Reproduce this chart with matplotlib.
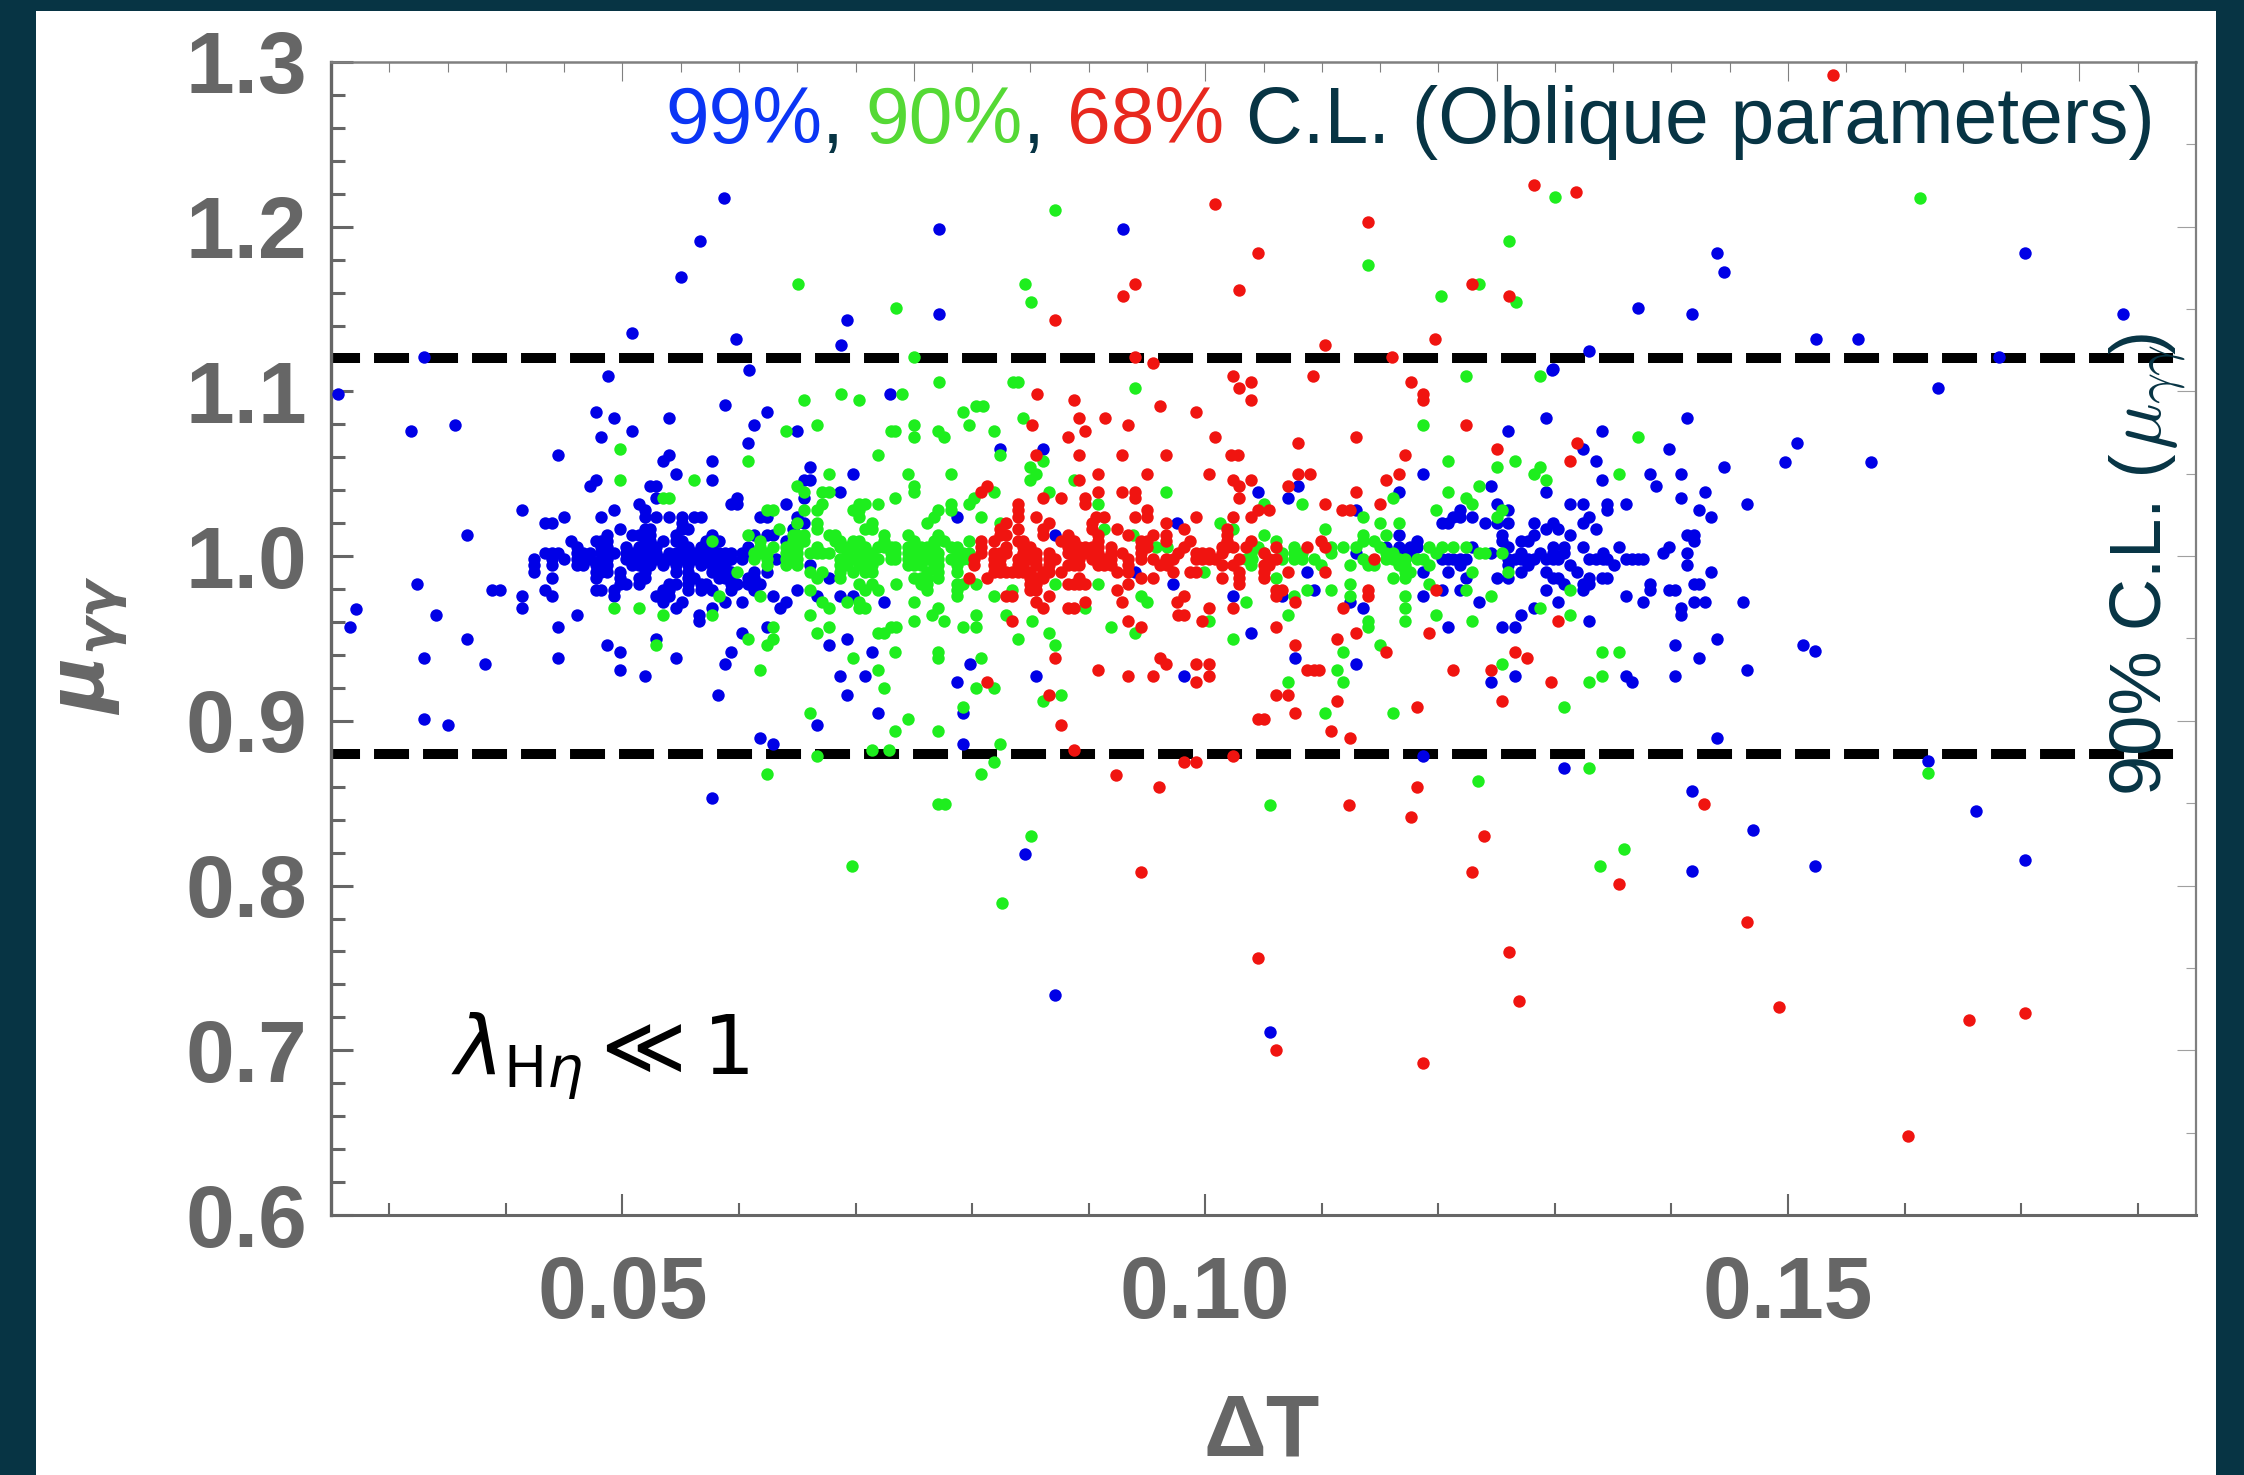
import matplotlib
matplotlib.use("Agg")
import matplotlib.pyplot as plt
from matplotlib.patches import Rectangle
from matplotlib.ticker import MultipleLocator

# eixos e rotulos
x_ticks = [0.05, 0.10, 0.15]
x_labels = ["0.05", "0.10", "0.15"]
y_ticks = [0.6, 0.7, 0.8, 0.9, 1.0, 1.1, 1.2, 1.3]
y_labels = ["0.6", "0.7", "0.8", "0.9", "1.0", "1.1", "1.2", "1.3"]
limit_mu = [1.12, 0.88]
limit_dt = [0.025, 0.1834]

# pontos: mu -> lista de delta T
blue_rows = {
    1.0918: [0.0588],
    1.0873: [0.0477, 0.0624],
    1.0837: [0.0493, 0.0540, 0.1292, 0.1413],
    1.0799: [0.0613],
    1.0762: [0.0508, 0.0650, 0.1260, 0.1340],
    1.0726: [0.0482],
    1.0687: [0.0608],
    1.0651: [0.0824, 0.0861, 0.1324, 0.1398],
    1.0614: [0.0445, 0.0540],
    1.0576: [0.0535, 0.0577, 0.1335],
    1.0540: [0.0661, 0.1445],
    1.0501: [0.0546, 0.0698, 0.1187, 0.1382, 0.1408],
    1.0465: [0.0477, 0.0577, 0.0656, 0.0661, 0.1340],
    1.0426: [0.0472, 0.0524, 0.0529, 0.1080, 0.1245, 0.1387],
    1.0390: [0.0687, 0.1045, 0.1166, 0.1292, 0.1429],
    1.0351: [0.0529, 0.0598, 0.0656, 0.1071, 0.1408],
    1.0315: [0.0514, 0.0593, 0.0598, 0.0640, 0.1250, 0.1313, 0.1324, 0.1345, 0.1361, 0.1465],
    1.0279: [0.0414, 0.0493, 0.0519, 0.1129, 0.1219, 0.1260, 0.1345, 0.1424],
    1.0240: [0.0450, 0.0482, 0.0519, 0.0529, 0.0540, 0.0551, 0.0561, 0.0567, 0.0618, 0.0624, 0.0650,
             0.0787, 0.1213, 0.1219, 0.1229, 0.1329, 0.1434],
    1.0204: [0.0434, 0.0440, 0.0551, 0.0650, 0.0656, 0.0976, 0.1203, 0.1208, 0.1240, 0.1250, 0.1260,
             0.1282, 0.1298, 0.1324],
    1.0167: [0.0498, 0.0519, 0.0524, 0.0551, 0.0556, 0.0646, 0.1292, 0.1303, 0.1335],
    1.0129: [0.0487, 0.0508, 0.0514, 0.0519, 0.0524, 0.0546, 0.0577, 0.0613, 0.0624, 0.0629, 0.0871,
             0.1166, 0.1255, 0.1282, 0.1313, 0.1413, 0.1419],
    1.0092: [0.0456, 0.0477, 0.0482, 0.0487, 0.0519, 0.0524, 0.0535, 0.0546, 0.0551, 0.0572, 0.0583,
             0.0640, 0.1182, 0.1255, 0.1271, 0.1277, 0.1419],
    1.0056: [0.0461, 0.0482, 0.0487, 0.0503, 0.0514, 0.0519, 0.0524, 0.0529, 0.0551, 0.0556, 0.0567,
             0.0577, 0.0608, 0.1155, 0.1166, 0.1176, 0.1182, 0.1229, 0.1260, 0.1298, 0.1308, 0.1324,
             0.1355, 0.1398],
    1.0017: [0.0434, 0.0440, 0.0445, 0.0461, 0.0466, 0.0472, 0.0482, 0.0487, 0.0493, 0.0503, 0.0508,
             0.0514, 0.0519, 0.0524, 0.0529, 0.0540, 0.0546, 0.0551, 0.0556, 0.0561, 0.0567, 0.0572,
             0.0577, 0.0583, 0.0588, 0.0593, 0.0603, 0.0608, 0.1129, 0.1166, 0.1176, 0.1245, 0.1271,
             0.1287, 0.1298, 0.1308, 0.1341, 0.1393, 0.1413],
    0.9981: [0.0424, 0.0440, 0.0450, 0.0461, 0.0466, 0.0472, 0.0482, 0.0487, 0.0503, 0.0508, 0.0514,
             0.0519, 0.0524, 0.0529, 0.0535, 0.0540, 0.0546, 0.0551, 0.0556, 0.0561, 0.0567, 0.0572,
             0.0577, 0.0583, 0.0588, 0.0593, 0.0603, 0.0632, 0.1171, 0.1203, 0.1208, 0.1213, 0.1219,
             0.1224, 0.1260, 0.1266, 0.1271, 0.1277, 0.1282, 0.1292, 0.1298, 0.1303, 0.1329, 0.1335,
             0.1341, 0.1345, 0.1361, 0.1366, 0.1371, 0.1376],
    0.9945: [0.0424, 0.0440, 0.0461, 0.0466, 0.0477, 0.0482, 0.0487, 0.0508, 0.0514, 0.0519, 0.0524,
             0.0535, 0.0546, 0.0556, 0.0567, 0.0577, 0.0583, 0.0588, 0.0661, 0.1219, 0.1260, 0.1277,
             0.1313, 0.1351, 0.1413],
    0.9906: [0.0424, 0.0477, 0.0482, 0.0487, 0.0498, 0.0519, 0.0546, 0.0556, 0.0577, 0.0583, 0.0588,
             0.0593, 0.0613, 0.0624, 0.0940, 0.1087, 0.1187, 0.1208, 0.1271, 0.1292, 0.1319, 0.1434],
    0.9870: [0.0440, 0.0477, 0.0498, 0.0514, 0.0519, 0.0556, 0.0561, 0.0583, 0.0588, 0.0593, 0.0608,
             0.0613, 0.0677, 0.1224, 0.1250, 0.1260, 0.1298, 0.1303, 0.1329, 0.1340, 0.1345],
    0.9831: [0.0498, 0.0503, 0.0514, 0.0540, 0.0546, 0.0556, 0.0567, 0.0572, 0.0593, 0.0598, 0.0608,
             0.0613, 0.0618, 0.0972, 0.1308, 0.1324, 0.1329, 0.1382, 0.1419, 0.1424],
    0.9795: [0.0388, 0.0395, 0.0434, 0.0477, 0.0482, 0.0493, 0.0535, 0.0540, 0.0556, 0.0567, 0.0577,
             0.0593, 0.0613, 0.0650, 0.1093, 0.1203, 0.1219, 0.1292, 0.1324, 0.1382, 0.1398, 0.1403],
    0.9756: [0.0414, 0.0440, 0.0493, 0.0529, 0.0535, 0.0540, 0.0629, 0.0667, 0.0687, 0.0698, 0.1024,
             0.1066, 0.1187, 0.1361],
    0.9720: [0.0535, 0.0551, 0.0588, 0.0603, 0.0640, 0.0724, 0.1124, 0.1235, 0.1303, 0.1376, 0.1419,
             0.1429, 0.1461],
    0.9683: [0.0414, 0.0546, 0.0577, 0.0635, 0.1135, 0.1282, 0.1408],
    0.9645: [0.0461, 0.0566, 0.1271, 0.1408],
    0.9609: [0.0566, 0.1329],
    0.9570: [0.0445, 0.0624, 0.1208, 0.1255, 0.1266],
    0.9534: [0.0603, 0.1039],
    0.9495: [0.0529, 0.0693, 0.1439],
    0.9459: [0.0487, 0.0677, 0.1403],
    0.9420: [0.0498, 0.0593, 0.0714],
    0.9384: [0.0445, 0.0546, 0.1077, 0.1424],
    0.9345: [0.0588, 0.0798, 0.1129],
    0.9309: [0.0498, 0.1465],
    0.9271: [0.0519, 0.0687, 0.0708, 0.0855, 0.0982, 0.1266, 0.1361, 0.1403],
    0.9234: [0.0787, 0.1245, 0.1366],
    0.9159: [0.0582, 0.0693],
    0.9048: [0.0719, 0.0792],
    0.8973: [0.0667],
    0.8898: [0.0618, 0.1439],
    0.8862: [0.0629, 0.0792],
    0.8787: [0.1187],
    0.8712: [0.1308],
}
blue_dt = [0.05875, 0.05663, 0.05506, 0.07714, 0.07714, 0.05086, 0.05978, 0.06925, 0.06876, 0.04877,
           0.06084, 0.07293, 0.09293, 0.12976, 0.1439, 0.1445, 0.1703, 0.1371, 0.1418, 0.1787, 0.1524,
           0.1560, 0.1329, 0.1681, 0.1298, 0.1629, 0.0330, 0.02563, 0.0319, 0.0356, 0.03666, 0.03241,
           0.02718, 0.03404, 0.02666, 0.03666, 0.03301, 0.03825, 0.03301, 0.03507, 0.1508, 0.1497,
           0.1571, 0.1513, 0.1523, 0.1470, 0.1523, 0.1620, 0.1661, 0.1703, 0.1418, 0.1418, 0.05766,
           0.08452, 0.08715, 0.10554]
blue_mu = [1.2175, 1.1916, 1.1693, 1.1989, 1.1469, 1.1357, 1.1321, 1.1432, 1.1282, 1.1096,
           1.1133, 1.0985, 1.1989, 1.1133, 1.1841, 1.1726, 1.1841, 1.1507, 1.1471, 1.1471, 1.1319,
           1.1319, 1.1246, 1.1210, 1.1137, 1.1021, 1.1210, 1.0985, 1.0760, 1.0797, 1.0129, 0.9831,
           0.9680, 0.9643, 0.9570, 0.9497, 0.9382, 0.9345, 0.9012, 0.8975, 1.0687, 1.0572,
           1.0572, 0.9459, 0.9424, 0.8338, 0.8120, 0.8755, 0.8451, 0.8155, 0.8086, 0.8572, 0.8532,
           0.8192, 0.7334, 0.7111]

green_rows = {
    1.0912: [0.0803, 0.0809],
    1.0873: [0.0792],
    1.0837: [0.0844],
    1.0799: [0.0667, 0.0750, 0.0797, 0.1187],
    1.0762: [0.0640, 0.0730, 0.0734, 0.0771, 0.0819],
    1.0726: [0.0750, 0.0776, 0.1371],
    1.0651: [0.0498],
    1.0614: [0.0719, 0.0824],
    1.0576: [0.0608, 0.0861, 0.1208, 0.1266],
    1.0540: [0.0850, 0.1250, 0.1287],
    1.0501: [0.0677, 0.0745, 0.0782, 0.0855, 0.1282, 0.1355],
    1.0465: [0.0498, 0.0561, 0.0850, 0.0887, 0.1292],
    1.0426: [0.0650, 0.0750, 0.1235],
    1.0390: [0.0656, 0.0671, 0.0677, 0.0750, 0.0819, 0.0866, 0.0966, 0.1208],
    1.0351: [0.0535, 0.0540, 0.0734, 0.0802, 0.1161, 0.1224],
    1.0315: [0.0671, 0.0703, 0.0708, 0.0719, 0.0797, 0.0782, 0.0908, 0.1050, 0.1083, 0.1229],
    1.0279: [0.0624, 0.0629, 0.0656, 0.0667, 0.0698, 0.0703, 0.0771, 0.0782, 0.1198, 0.1255],
    1.0240: [0.0703, 0.0767, 0.0808, 0.1135, 0.1250],
    1.0204: [0.0650, 0.0667, 0.0714, 0.0761, 0.0824, 0.1013, 0.1150, 0.1166],
    1.0167: [0.0634, 0.0667, 0.0708, 0.0714, 0.0913, 0.1024, 0.1103],
    1.0129: [0.0608, 0.0646, 0.0650, 0.0656, 0.0677, 0.0682, 0.0724, 0.0745, 0.0771, 0.0938, 0.1050,
             0.1135, 0.1155],
    1.0092: [0.0577, 0.0618, 0.0646, 0.0650, 0.0656, 0.0682, 0.0687, 0.0698, 0.0703, 0.0724, 0.0750,
             0.0767, 0.0776, 0.0797, 0.1061, 0.1135, 0.1145],
    1.0056: [0.0618, 0.0629, 0.0640, 0.0646, 0.0650, 0.0667, 0.0687, 0.0693, 0.0698, 0.0708, 0.0719,
             0.0724, 0.0730, 0.0734, 0.0745, 0.0750, 0.0756, 0.0761, 0.0767, 0.0782, 0.0787, 0.0958,
             0.0967, 0.1045, 0.1076, 0.1108, 0.1118, 0.1129, 0.1150, 0.1192, 0.1203, 0.1213, 0.1224],
    1.0017: [0.0613, 0.0618, 0.0624, 0.0640, 0.0646, 0.0650, 0.0661, 0.0667, 0.0671, 0.0677, 0.0693,
             0.0703, 0.0708, 0.0714, 0.0730, 0.0734, 0.0745, 0.0750, 0.0756, 0.0761, 0.0771, 0.0787,
             0.0792, 0.0797, 0.1039, 0.1050, 0.1066, 0.1076, 0.1083, 0.1108, 0.1155, 0.1161, 0.1198,
             0.1235, 0.1240, 0.1255],
    0.9981: [0.0613, 0.0624, 0.0640, 0.0646, 0.0650, 0.0687, 0.0693, 0.0698, 0.0708, 0.0714, 0.0719,
             0.0730, 0.0734, 0.0745, 0.0750, 0.0756, 0.0761, 0.0767, 0.0771, 0.0782, 0.0792, 0.0797,
             0.1035, 0.1040, 0.1066, 0.1076, 0.1083, 0.1093, 0.1135, 0.1155, 0.1161, 0.1166, 0.1171,
             0.1182, 0.1187],
    0.9945: [0.0624, 0.0640, 0.0650, 0.0687, 0.0693, 0.0703, 0.0708, 0.0714, 0.0745, 0.0750, 0.0756,
             0.0767, 0.0771, 0.0787, 0.1039, 0.1099, 0.1124, 0.1140, 0.1145, 0.1166, 0.1171, 0.1192],
    0.9906: [0.0598, 0.0661, 0.0671, 0.0687, 0.0698, 0.0708, 0.0714, 0.0761, 0.0771, 0.0787, 0.0999,
             0.1171, 0.1176, 0.1229, 0.1260],
    0.9870: [0.0667, 0.0687, 0.0750, 0.0756, 0.0761, 0.0771, 0.1061, 0.1161, 0.1171],
    0.9831: [0.0703, 0.0714, 0.0735, 0.0756, 0.0761, 0.0787, 0.0792, 0.0803, 0.0871, 0.0908, 0.1124,
             0.1192],
    0.9795: [0.0661, 0.0708, 0.0719, 0.0761, 0.0787, 0.0834, 0.1087, 0.1108, 0.1224, 0.1313],
    0.9756: [0.0583, 0.0618, 0.0787, 0.0819, 0.0945, 0.1076, 0.1124, 0.1171, 0.1245],
    0.9720: [0.0671, 0.0693, 0.0703, 0.0750, 0.0950, 0.1035],
    0.9683: [0.0493, 0.0514, 0.0677, 0.0703, 0.0708, 0.0771, 0.0897, 0.1171, 0.1287],
    0.9645: [0.0535, 0.0577, 0.0661, 0.0766, 0.0803, 0.0829, 0.1071, 0.1198, 0.1313],
    0.9609: [0.0750, 0.0776, 0.0851, 0.1003, 0.1140, 0.1171, 0.1229],
    0.9570: [0.0629, 0.0677, 0.0730, 0.0735, 0.0792, 0.0803, 0.0919, 0.1140],
    0.9534: [0.0667, 0.0719, 0.0724, 0.0866, 0.0940],
    0.9495: [0.0608, 0.0629, 0.0839, 0.1024],
    0.9459: [0.0529, 0.0624, 0.0871, 0.1150],
    0.9420: [0.0734, 0.0771, 0.1118, 0.1340, 0.1355],
    0.9384: [0.0698, 0.0771, 0.0808],
    0.9345: [0.1255],
    0.9309: [0.0618, 0.0719, 0.1113],
    0.9271: [0.1340],
    0.9234: [0.1071, 0.1118, 0.1329],
    0.9198: [0.0724, 0.0803, 0.0819],
    0.9159: [0.0876],
    0.9123: [0.0861],
    0.9084: [0.0792, 0.1308],
    0.9048: [0.0661, 0.1103, 0.1161],
    0.9009: [0.0745],
    0.8937: [0.0734, 0.0771],
    0.8862: [0.0824],
    0.8823: [0.0714, 0.0729],
    0.8787: [0.0667],
    0.8751: [0.0819],
    0.8712: [0.1329],
    0.8676: [0.0624, 0.0808],
}
green_dt = [0.08712, 0.06504, 0.07345, 0.08452, 0.08503, 0.07502, 0.07714, 0.06876, 0.06558, 0.07027,
            0.07399, 0.08349, 0.08392, 0.12999, 0.12607, 0.11395, 0.12027, 0.12353, 0.12665, 0.09399,
            0.12235, 0.12868, 0.1613, 0.10554, 0.12344, 0.08503, 0.08257, 0.1339, 0.1359, 0.1620,
            0.0697, 0.0771, 0.0777]
green_mu = [1.2102, 1.1655, 1.1507, 1.1655, 1.1543, 1.1207, 1.1060, 1.0985, 1.0948, 1.0948,
            1.0985, 1.1060, 1.1060, 1.2179, 1.1916, 1.1766, 1.1580, 1.1655, 1.1541, 1.1021,
            1.1096, 1.1096, 1.2175, 0.8489, 0.8637, 0.8303, 0.7892, 0.8120, 0.8225, 0.8685,
            0.8120, 0.8494, 0.8494]

red_rows = {
    1.0912: [0.0961],
    1.0873: [0.0992],
    1.0837: [0.0892, 0.0914],
    1.0799: [0.0851, 0.0934, 0.1224],
    1.0762: [0.0897],
    1.0726: [0.0882, 0.1008, 0.1129],
    1.0687: [0.1080, 0.1319],
    1.0651: [0.1250],
    1.0614: [0.0855, 0.0892, 0.0929, 0.0966, 0.1022, 0.1028, 0.1171],
    1.0576: [0.1313],
    1.0501: [0.0908, 0.0950, 0.1003, 0.1080, 0.1090, 0.1166],
    1.0465: [0.0892, 0.1024, 0.1039, 0.1155],
    1.0426: [0.0813, 0.1029, 0.1071],
    1.0390: [0.0808, 0.0908, 0.0929, 0.0940, 0.1129],
    1.0351: [0.0861, 0.0876, 0.0897, 0.0940, 0.1029],
    1.0315: [0.0897, 0.0839, 0.1103, 0.1150],
    1.0279: [0.0839, 0.0950, 0.1045, 0.1055, 0.1117, 0.1124],
    1.0240: [0.0839, 0.0855, 0.0913, 0.0906, 0.0940, 0.0950, 0.0992, 0.1024, 0.1039],
    1.0204: [0.0829, 0.0866, 0.0903, 0.0966],
    1.0167: [0.0824, 0.0839, 0.0861, 0.0903, 0.0924, 0.0982, 0.1019],
    1.0129: [0.0824, 0.0829, 0.0861, 0.0882, 0.0908, 0.0934, 0.0955, 0.0966, 0.1019],
    1.0092: [0.0808, 0.0819, 0.0839, 0.0844, 0.0876, 0.0882, 0.0887, 0.0908, 0.0945, 0.0950, 0.0966,
             0.0987, 0.1019, 0.1039, 0.1099],
    1.0056: [0.0808, 0.0829, 0.0844, 0.0850, 0.0882, 0.0887, 0.0892, 0.0897, 0.0903, 0.0908, 0.0919,
             0.0945, 0.0950, 0.0982, 0.1014, 0.1019, 0.1024, 0.1035, 0.1061, 0.1087, 0.1103],
    1.0017: [0.0808, 0.0819, 0.0824, 0.0829, 0.0844, 0.0850, 0.0855, 0.0866, 0.0882, 0.0887, 0.0897,
             0.0903, 0.0908, 0.0919, 0.0929, 0.0945, 0.0977, 0.0992, 0.0997, 0.1003, 0.1014, 0.1050],
    0.9981: [0.0802, 0.0819, 0.0824, 0.0839, 0.0844, 0.0850, 0.0855, 0.0866, 0.0871, 0.0887, 0.0892,
             0.0903, 0.0908, 0.0913, 0.0919, 0.0934, 0.0945, 0.0955, 0.0966, 0.0972, 0.0992, 0.0997,
             0.1003, 0.1008, 0.1029, 0.1055, 0.1061, 0.1145],
    0.9945: [0.0802, 0.0819, 0.0824, 0.0839, 0.0844, 0.0855, 0.0866, 0.0882, 0.0887, 0.0892, 0.0908,
             0.0913, 0.0919, 0.0934, 0.0961, 0.0967, 0.1014, 0.1024, 0.1050, 0.1055],
    0.9906: [0.0819, 0.0824, 0.0829, 0.0834, 0.0839, 0.0844, 0.0850, 0.0861, 0.0866, 0.0876, 0.0924,
             0.0934, 0.0972, 0.0987, 0.0992, 0.1029, 0.1050, 0.1071, 0.1103],
    0.9870: [0.0797, 0.0813, 0.0850, 0.0855, 0.0861, 0.0892, 0.0945, 0.0955, 0.1014, 0.1029, 0.1050],
    0.9831: [0.0850, 0.0855, 0.0882, 0.0887, 0.0892, 0.0897, 0.0934, 0.1029],
    0.9795: [0.0850, 0.0855, 0.0924, 0.1061, 0.1066, 0.1140, 0.1198],
    0.9756: [0.0829, 0.0834, 0.0866, 0.0982, 0.1061, 0.1140],
    0.9720: [0.0855, 0.0897, 0.0929, 0.0976, 0.1077],
    0.9683: [0.0861, 0.0882, 0.0887, 0.1003, 0.1024, 0.1118],
    0.9645: [0.0977, 0.0982],
    0.9609: [0.0834, 0.0934, 0.0997, 0.1303],
    0.9570: [0.0945, 0.1061],
    0.9534: [0.1129, 0.1192],
    0.9495: [0.1113],
    0.9459: [0.1077],
    0.9420: [0.1155, 0.1266],
    0.9384: [0.0871, 0.0961, 0.1276],
    0.9345: [0.0966, 0.0992, 0.1003],
    0.9309: [0.0908, 0.1087, 0.1093, 0.1098, 0.1213, 0.1245],
    0.9271: [0.0934, 0.0955, 0.1003],
    0.9234: [0.0813, 0.0992, 0.1297],
    0.9159: [0.0866, 0.1061, 0.1071],
    0.9123: [0.1113, 0.1255],
    0.9084: [0.1182],
    0.9048: [0.1077],
    0.9009: [0.1045, 0.1050],
    0.8973: [0.0876],
    0.8937: [0.1108],
    0.8898: [0.1124],
    0.8823: [0.0887],
    0.8787: [0.1024],
    0.8751: [0.0982, 0.0992],
}
red_dt = [0.08712, 0.08557, 0.10082, 0.11398, 0.10451, 0.09399, 0.09293, 0.10294, 0.12819, 0.12290,
          0.12607, 0.11975, 0.11026, 0.09399, 0.09553, 0.11606, 0.10236, 0.10397, 0.10294, 0.10926,
          0.11764, 0.11869, 0.11869, 0.08872, 0.10397, 0.1539, 0.1318, 0.09238, 0.09607, 0.11818,
          0.11237, 0.11763, 0.12395, 0.12290, 0.09450, 0.12604, 0.10451, 0.12690, 0.10605, 0.11869,
          0.1492, 0.1655, 0.1703, 0.1603, 0.1465, 0.1428, 0.1355]
red_mu = [1.1432, 1.0985, 1.2140, 1.2027, 1.1841, 1.1655, 1.1580, 1.1618, 1.2252, 1.1655,
          1.1580, 1.1319, 1.1282, 1.1207, 1.1171, 1.1207, 1.1096, 1.1060, 1.1021, 1.1096,
          1.1060, 1.0985, 1.0948, 1.0948, 1.0948, 1.2922, 1.2212, 0.8674, 0.8601, 0.8601,
          0.8489, 0.8415, 0.8303, 0.8081, 0.8081, 0.7597, 0.7559, 0.7301, 0.7000, 0.6925,
          0.7263, 0.7184, 0.7226, 0.6480, 0.7779, 0.8495, 0.8010]

W, H = 2244, 1475
DARK = "#073444"
GRAY = "#666666"


def expand(rows, extra_dt, extra_mu):
    xs, ys = list(extra_dt), list(extra_mu)
    for mu, dts in rows.items():
        xs += dts
        ys += [mu] * len(dts)
    return xs, ys


def chain(fig, x, y, pieces, **kw):
    # coloca pedacos de texto em sequencia, em pixels da figura
    renderer = fig.canvas.get_renderer()
    for s, color in pieces:
        t = fig.text(x / W, 1 - y / H, s, color=color, ha="left", va="baseline", **kw)
        x += t.get_window_extent(renderer).width


plt.rcParams["lines.scale_dashes"] = False
plt.rcParams["font.family"] = "Liberation Sans"

fig = plt.figure(figsize=(W / 100, H / 100), dpi=100, facecolor=DARK)
fig.add_artist(Rectangle((36 / W, 0), (2216 - 36) / W, 1 - 11 / H, transform=fig.transFigure,
                         facecolor="white", edgecolor="none", zorder=-5))

ax = fig.add_axes([331 / W, 1 - 1215 / H, (2196 - 331) / W, (1215 - 62) / H])
ax.set_xlim(0.025, 0.185)
ax.set_ylim(0.6, 1.3)

for mu in limit_mu:
    ax.plot(limit_dt, [mu, mu], color="black", lw=7.2, zorder=2,
            linestyle=(4.3, (25.2, 10.08)), dash_capstyle="butt")

for rows, e_dt, e_mu, color in [(blue_rows, blue_dt, blue_mu, "#0000e6"),
                                (green_rows, green_dt, green_mu, "#1eee1e"),
                                (red_rows, red_dt, red_mu, "#f01410")]:
    xs, ys = expand(rows, e_dt, e_mu)
    ax.scatter(xs, ys, s=80, color=color, linewidths=0, zorder=3)

ax.set_xticks(x_ticks, labels=x_labels)
ax.set_yticks(y_ticks, labels=y_labels)
ax.xaxis.set_minor_locator(MultipleLocator(0.01))
ax.yaxis.set_minor_locator(MultipleLocator(0.02))
ax.tick_params(axis="x", which="major", direction="in", length=15, width=1.5, color=GRAY, pad=28.5,
               labelsize=63, labelcolor=GRAY)
ax.tick_params(axis="x", which="minor", direction="in", length=9, width=1.5, color=GRAY)
ax.tick_params(axis="y", which="major", direction="in", length=16, width=2.2, color=GRAY, pad=17,
               labelsize=63, labelcolor=GRAY)
ax.tick_params(axis="y", which="minor", direction="in", length=10, width=2.2, color=GRAY)
for lab in ax.get_xticklabels() + ax.get_yticklabels():
    lab.set_fontweight("bold")

ax.spines["left"].set(color=GRAY, linewidth=2.4)
ax.spines["bottom"].set(color=GRAY, linewidth=2.2)
ax.spines["top"].set(color="#808080", linewidth=1.8)
ax.spines["right"].set(color="#808080", linewidth=1.6)

top = ax.secondary_xaxis("top")
top.set_xticks([0.05, 0.075, 0.10, 0.125, 0.15, 0.175], labels=[])
top.xaxis.set_minor_locator(MultipleLocator(0.005))
top.tick_params(which="major", direction="in", length=14, width=0.8, color="#808080")
top.tick_params(which="minor", direction="in", length=7, width=0.8, color="#808080")
top.spines["top"].set_visible(False)

right = ax.secondary_yaxis("right")
right.set_yticks(y_ticks, labels=[])
right.yaxis.set_minor_locator(MultipleLocator(0.05))
right.tick_params(which="major", direction="in", length=14, width=0.8, color="#a0a0a0")
right.tick_params(which="minor", direction="in", length=7, width=0.8, color="#a0a0a0")
right.spines["right"].set_visible(False)

fig.text(1262 / W, 1 - 1433 / H, "\u0394T", color=GRAY, fontsize=63, fontweight="bold", ha="center", va="center")
fig.text(93 / W, 1 - 645 / H, r"$\boldsymbol{\mu}_{\boldsymbol{\gamma\gamma}}$", color=GRAY, fontsize=56,
         rotation=90, ha="center", va="center", math_fontfamily="dejavusans")

fig.text(451 / W, 1 - 1074 / H, r"$\lambda_{\mathrm{H}\eta}\ll 1$", color="black", fontsize=59,
         ha="left", va="baseline", math_fontfamily="dejavusans")

chain(fig, 665, 143, [("99%", "#0b35f5"), (", ", DARK), ("90%", "#55d935"), (", ", DARK),
                      ("68%", "#e8281e"), (" C.L. (Oblique parameters)", DARK)], fontsize=56.6)

# texto vertical na direita
fig.text(2142 / W, 1 - 795 / H, "90% C.L. (", color=DARK, fontsize=52, rotation=90, ha="center", va="bottom")
fig.text(2152 / W, 1 - 397 / H, r"$\mu_{\gamma\gamma}$", color=DARK, fontsize=56, rotation=90,
         ha="center", va="center", math_fontfamily="cm")
fig.text(2142 / W, 1 - 342 / H, ")", color=DARK, fontsize=52, rotation=90, ha="center", va="center")

fig.savefig("out.png", dpi=100, facecolor=DARK)
